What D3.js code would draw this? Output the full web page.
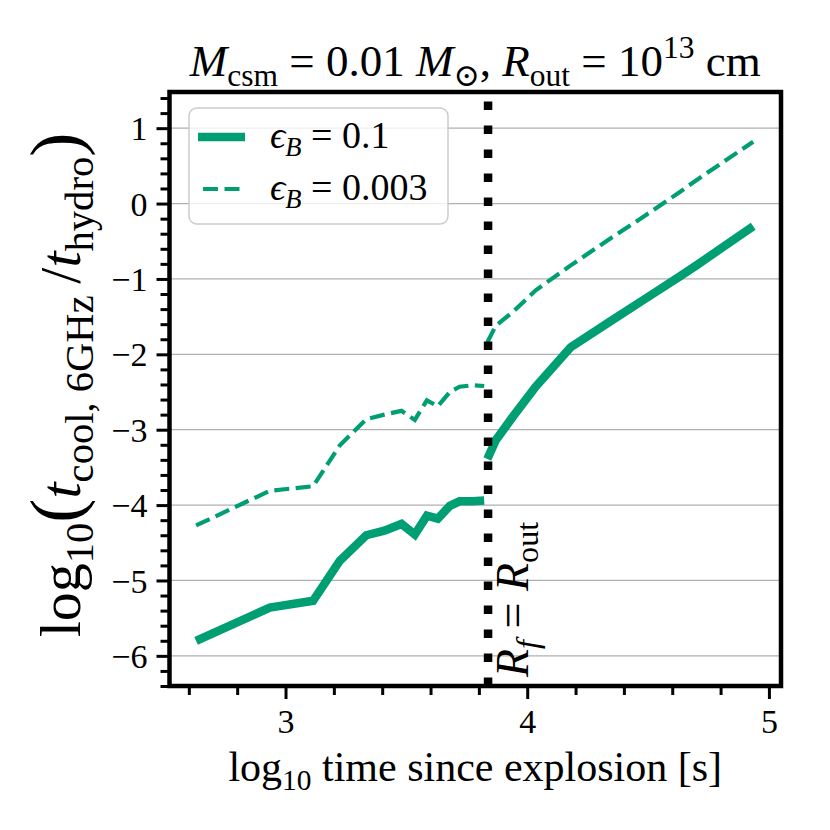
<!DOCTYPE html>
<html lang="en">
<head>
<meta charset="UTF-8" />
<script src="https://d3js.org/d3.v7.min.js"></script>
<style>
  body { margin: 0; background: #fff; }
  svg text { white-space: pre; }
</style>
</head>
<body>
<div id="chart"></div>
<script>
// log10 time [s] and log10(t_cool / t_hydro), before the front reaches R_out
const timeInner = [2.63, 2.935, 3.114, 3.224, 3.334, 3.409, 3.48, 3.535, 3.585, 3.63, 3.68, 3.72, 3.775, 3.822];
const epsHighInner = [-5.80, -5.36, -5.27, -4.74, -4.40, -4.34, -4.25, -4.39, -4.14, -4.18, -4.01, -3.95, -3.95, -3.94];
const epsLowInner = [-4.27, -3.81, -3.75, -3.21, -2.86, -2.80, -2.75, -2.87, -2.61, -2.69, -2.50, -2.43, -2.41, -2.42];
// ...and after it
const timeOuter = [3.835, 3.87, 3.94, 4.035, 4.18, 4.35, 4.49, 4.63, 4.70, 4.935];
const epsHighOuter = [-3.39, -3.14, -2.83, -2.43, -1.905, -1.55, -1.26, -0.97, -0.82, -0.30];
const epsLowOuter = [-1.84, -1.62, -1.44, -1.15, -0.82, -0.45, -0.155, 0.15, 0.31, 0.82];
const rfTime = 3.838;

const xMajor = [3, 4, 5];
const yMajor = [-6, -5, -4, -3, -2, -1, 0, 1];
const legendLabels = ["0.1", "0.003"];

const green = "#009e73";
const serif = "'Liberation Serif', 'Times New Roman', Tinos, 'DejaVu Serif', serif";
const pLeft = 169.5, pRight = 781, pTop = 92, pBottom = 686;

const x = d3.scaleLinear().domain([2.52, 5.05]).range([pLeft, pRight]);
const y = d3.scaleLinear().domain([-6.4, 1.48]).range([pBottom, pTop]);

const xMinor = d3.range(26, 51, 2).map(v => v / 10).filter(v => !Number.isInteger(v));
const yMinor = d3.range(-64, 15, 2).map(v => v / 10).filter(v => !Number.isInteger(v));

const svg = d3.select("#chart").append("svg")
  .attr("width", 830)
  .attr("height", 830)
  .attr("font-family", serif);

// writes a little TeX-ish string as tspans
function mathText(sel, parts, size) {
  let shift = 0;
  sel.attr("font-size", size).attr("font-family", serif);
  parts.forEach(p => {
    const target = p.sub ? size * 0.22 : p.sup ? -size * 0.4 : 0;
    const ts = sel.append("tspan").attr("dy", target - shift).text(p.t);
    shift = target;
    if (p.it) ts.attr("font-style", "italic");
    if (p.sub || p.sup) ts.attr("font-size", size * 0.7);
    if (p.big) ts.attr("font-size", size * 1.25);
  });
  return sel;
}

// grid
svg.append("g")
  .selectAll("line")
  .data(yMajor)
  .join("line")
  .attr("x1", pLeft).attr("x2", pRight)
  .attr("y1", d => y(d)).attr("y2", d => y(d))
  .attr("stroke", "#b0b0b0")
  .attr("stroke-width", 1.3);

const line = d3.line().x(d => x(d[0])).y(d => y(d[1]));

const series = [
  { t: timeInner, v: epsHighInner, dash: null, w: 8.5 },
  { t: timeOuter, v: epsHighOuter, dash: null, w: 8.5 },
  { t: timeInner, v: epsLowInner, dash: "15,6.5", w: 4.2 },
  { t: timeOuter, v: epsLowOuter, dash: "15,6.5", w: 4.2 }
];

svg.append("g")
  .selectAll("path")
  .data(series)
  .join("path")
  .attr("d", d => line(d3.zip(d.t, d.v)))
  .attr("fill", "none")
  .attr("stroke", green)
  .attr("stroke-width", d => d.w)
  .attr("stroke-dasharray", d => d.dash);

// R_f = R_out marker
svg.append("line")
  .attr("x1", x(rfTime)).attr("x2", x(rfTime))
  .attr("y1", pBottom).attr("y2", pTop)
  .attr("stroke", "#000")
  .attr("stroke-width", 8.5)
  .attr("stroke-dasharray", "8.5,15.5");

mathText(svg.append("text")
  .attr("transform", `translate(${x(rfTime) + 40},${pBottom - 9}) rotate(-90)`),
  [{ t: "R", it: true }, { t: "f", it: true, sub: true }, { t: " = " }, { t: "R", it: true }, { t: "out", sub: true }], 46);

// axes
const fmt = d => d < 0 ? "\u2212" + Math.abs(d) : String(d);

const xAxis = svg.append("g")
  .attr("transform", `translate(0,${pBottom})`)
  .call(d3.axisBottom(x).tickValues(xMajor).tickSize(13).tickFormat(fmt));
xAxis.append("g")
  .call(d3.axisBottom(x).tickValues(xMinor).tickSize(9).tickFormat(""));
xAxis.selectAll("text").attr("y", 47).attr("dy", null);

const yAxis = svg.append("g")
  .attr("transform", `translate(${pLeft},0)`)
  .call(d3.axisLeft(y).tickValues(yMajor).tickSize(13).tickFormat(fmt));
yAxis.append("g")
  .call(d3.axisLeft(y).tickValues(yMinor).tickSize(9).tickFormat(""));
yAxis.selectAll("text").attr("x", -22).attr("dy", "0.34em");

svg.selectAll(".domain").remove();
svg.selectAll(".tick line").attr("stroke", "#000").attr("stroke-width", 3);
[xAxis, yAxis].forEach(a => a.attr("font-family", serif).attr("font-size", 34));
svg.selectAll(".tick text").attr("font-family", serif).attr("font-size", 34);

// frame
svg.append("rect")
  .attr("x", pLeft).attr("y", pTop)
  .attr("width", pRight - pLeft).attr("height", pBottom - pTop)
  .attr("fill", "none")
  .attr("stroke", "#000")
  .attr("stroke-width", 4.5);

// legend
const legend = svg.append("g");
legend.append("rect")
  .attr("x", 189).attr("y", 108)
  .attr("width", 259).attr("height", 116)
  .attr("rx", 8)
  .attr("fill", "#fff").attr("fill-opacity", 0.8)
  .attr("stroke", "#cccccc").attr("stroke-width", 1.5);

legendLabels.forEach((lab, i) => {
  const ly = 137 + i * 52;
  legend.append("line")
    .attr("x1", i === 0 ? 198 : 203).attr("x2", i === 0 ? 245 : 241)
    .attr("y1", ly).attr("y2", ly)
    .attr("stroke", green)
    .attr("stroke-width", i === 0 ? 8.5 : 4.2)
    .attr("stroke-dasharray", i === 0 ? null : "15,6.5");
  mathText(legend.append("text").attr("x", 270).attr("y", ly + 11),
    [{ t: "\u03f5", it: true }, { t: "B", it: true, sub: true }, { t: " = " + lab }], 38);
});

// title
mathText(svg.append("text")
  .attr("x", (pLeft + pRight) / 2).attr("y", 76)
  .attr("text-anchor", "middle"),
  [{ t: "M", it: true }, { t: "csm", sub: true }, { t: " = 0.01 " },
   { t: "M", it: true }, { t: "\u2299", sub: true }, { t: ", " },
   { t: "R", it: true }, { t: "out", sub: true }, { t: " = 10" },
   { t: "13", sup: true }, { t: " cm" }], 45);

// axis labels
mathText(svg.append("text")
  .attr("x", (pLeft + pRight) / 2).attr("y", 781)
  .attr("text-anchor", "middle"),
  [{ t: "log" }, { t: "10", sub: true }, { t: " time since explosion [s]" }], 42);

mathText(svg.append("text")
  .attr("transform", `translate(80,${(pTop + pBottom) / 2 - 4}) rotate(-90)`)
  .attr("text-anchor", "middle"),
  [{ t: "log" }, { t: "10", sub: true }, { t: "(", big: true }, { t: "t", it: true },
   { t: "cool, 6GHz", sub: true }, { t: "\u2009/" }, { t: "t", it: true },
   { t: "hydro", sub: true }, { t: ")", big: true }], 58);
</script>
</body>
</html>
